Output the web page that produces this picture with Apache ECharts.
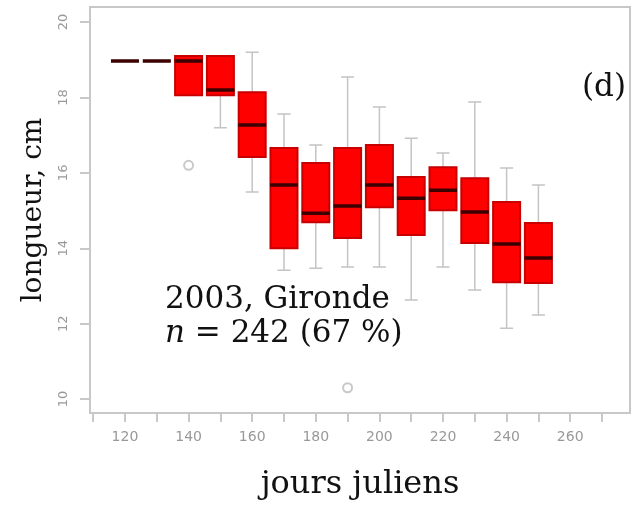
<!DOCTYPE html>
<html>
<head>
<meta charset="utf-8">
<script src="https://cdn.jsdelivr.net/npm/echarts@6/dist/echarts.min.js"></script>
<style>
  html, body { margin: 0; padding: 0; background: #fff; }
  #chart { width: 634px; height: 506px; }
</style>
</head>
<body>
<div id="chart"></div>
<script>
var days = [120, 130, 140, 150, 160, 170, 180, 190, 200, 210, 220, 230, 240, 250];
var mins = [18.97, 18.97, 18.06, 17.2, 15.49, 13.42, 13.47, 13.5, 13.5, 12.63, 13.5, 12.89, 11.88, 12.23];
var q1s = [18.97, 18.97, 18.06, 18.06, 16.42, 14.0, 14.69, 14.27, 15.09, 14.35, 15.01, 14.14, 13.1, 13.08];
var medians = [18.97, 18.97, 18.97, 18.2, 17.27, 15.68, 14.93, 15.12, 15.68, 15.33, 15.54, 14.96, 14.11, 13.74];
var q3s = [18.97, 18.97, 19.1, 19.1, 18.14, 16.66, 16.26, 16.66, 16.74, 15.89, 16.15, 15.86, 15.23, 14.67];
var maxs = [18.97, 18.97, 19.1, 19.1, 19.2, 17.56, 16.74, 18.54, 17.75, 16.92, 16.53, 17.88, 16.13, 15.68];
var outliers = [[140, 16.2], [190, 10.3]];
var xTicks = [110, 120, 130, 140, 150, 160, 170, 180, 190, 200, 210, 220, 230, 240, 250, 260, 270];
var xLabels = [120, 140, 160, 180, 200, 220, 240, 260];
var yTicks = [10, 12, 14, 16, 18, 20];

var chartDom = document.getElementById('chart');
var myChart = echarts.init(chartDom);

// one boxplot series per x axis, so that ECharts does not shift them side by side
var whiskerData = days.map(function (d, i) { return [d, mins[i], q1s[i], medians[i], q3s[i], maxs[i]]; });
var boxData = days.map(function (d, i) { return [d, q1s[i], q1s[i], medians[i], q3s[i], q3s[i]]; });
var medData = days.map(function (d, i) { return [d, medians[i], medians[i], medians[i], medians[i], medians[i]]; });

var serif = 'DejaVu Serif';

function hiddenX() {
    return { type: 'value', min: 109, max: 278.8, show: false, splitLine: { show: false } };
}

var option = {
    animation: false,
    grid: {
        left: 90, top: 7, right: 4, bottom: 93,
        outerBoundsMode: 'none',
        containLabel: false,
        show: true, borderColor: '#c8c8c8', borderWidth: 2
    },
    xAxis: [
        {
            type: 'value',
            min: 109, max: 278.8,
            splitLine: { show: false },
            axisLine: { show: false },
            axisTick: { show: true, customValues: xTicks, length: 9, lineStyle: { color: '#c8c8c8', width: 2 } },
            axisLabel: { customValues: xLabels, color: '#999', fontSize: 14, margin: 17, fontFamily: 'DejaVu Sans' },
            name: 'jours juliens',
            nameLocation: 'middle',
            nameGap: 56,
            nameTextStyle: { fontFamily: serif, fontSize: 32, color: '#111' }
        },
        hiddenX(),
        hiddenX()
    ],
    yAxis: {
        type: 'value',
        min: 9.63, max: 20.4,
        splitLine: { show: false },
        axisLine: { show: false },
        axisTick: { show: true, customValues: yTicks, length: 10, lineStyle: { color: '#c8c8c8', width: 2 } },
        axisLabel: { customValues: yTicks, rotate: 90, color: '#999', fontSize: 13, margin: 20, fontFamily: 'DejaVu Sans' },
        name: 'longueur, cm',
        nameLocation: 'middle',
        nameGap: 42,
        nameTextStyle: { fontFamily: serif, fontSize: 28, color: '#111' }
    },
    series: [
        {
            type: 'boxplot',
            xAxisIndex: 0,
            data: whiskerData,
            encode: { x: 0, y: [1, 2, 3, 4, 5] },
            boxWidth: [13, 13],
            itemStyle: { color: 'transparent', borderColor: '#c4c4c4', borderWidth: 1.5 },
            z: 2
        },
        {
            type: 'boxplot',
            xAxisIndex: 1,
            data: boxData,
            encode: { x: 0, y: [1, 2, 3, 4, 5] },
            boxWidth: [27, 27],
            itemStyle: { color: '#ff0000', borderColor: '#c80000', borderWidth: 2 },
            z: 3
        },
        {
            type: 'boxplot',
            xAxisIndex: 2,
            data: medData,
            encode: { x: 0, y: [1, 2, 3, 4, 5] },
            boxWidth: [28, 28],
            itemStyle: { color: 'transparent', borderColor: '#3c0000', borderWidth: 3.5 },
            z: 4
        },
        {
            type: 'scatter',
            data: outliers,
            symbol: 'emptyCircle',
            symbolSize: 9,
            itemStyle: { color: '#bbb', borderColor: '#bbb', borderWidth: 1.5 },
            z: 5
        }
    ],
    graphic: [
        {
            type: 'text', left: 165, top: 284,
            style: { text: '2003, Gironde', font: '31px "DejaVu Serif"', fill: '#111' }
        },
        {
            type: 'text', left: 165, top: 318,
            style: {
                text: '{i|n} = 242 (67 %)',
                font: '31px "DejaVu Serif"', fill: '#111',
                rich: { i: { fontStyle: 'italic', fontFamily: serif, fontSize: 31, fill: '#111' } }
            }
        },
        {
            type: 'text', left: 582, top: 72,
            style: { text: '(d)', font: '31px "DejaVu Serif"', fill: '#111' }
        }
    ]
};

option && myChart.setOption(option);
</script>
</body>
</html>
